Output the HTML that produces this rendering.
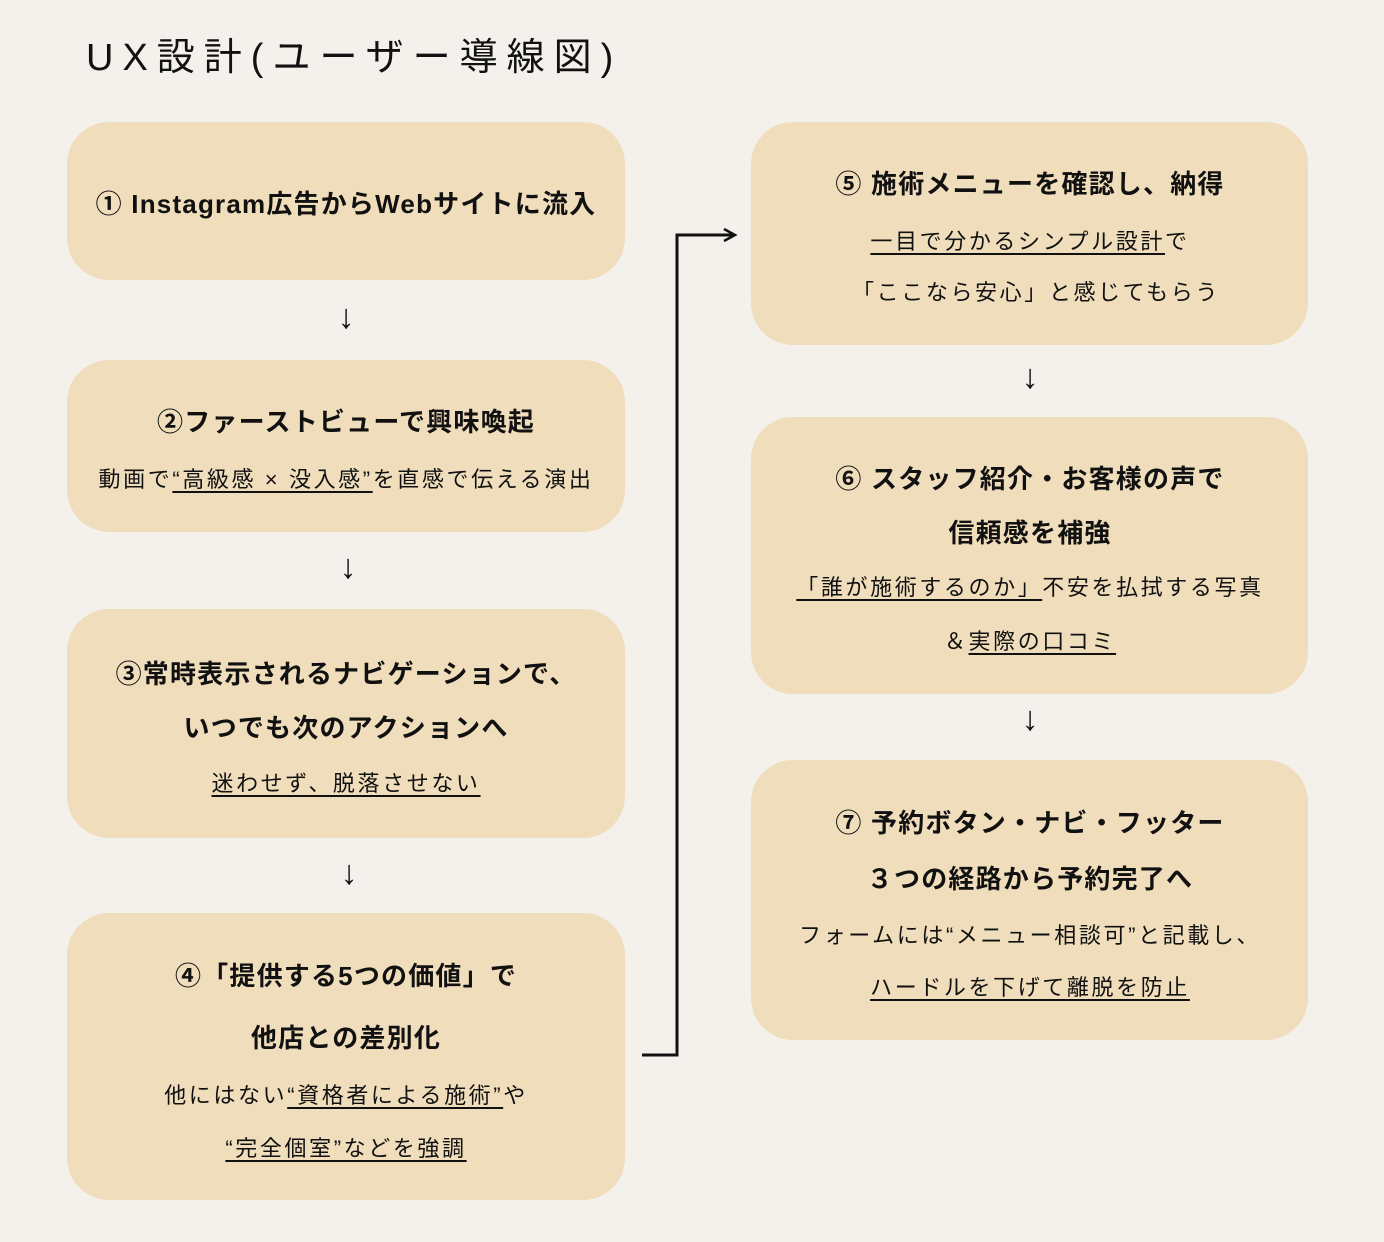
<!DOCTYPE html>
<html><head><meta charset="utf-8"><style>
body{margin:0;width:1384px;height:1242px;background:#f4f1ec;position:relative;overflow:hidden;font-family:"Liberation Sans","Noto Sans CJK JP",sans-serif;color:#111}
.b{position:absolute;background:#f0ddbb;border-radius:42px}
.t{position:absolute;white-space:nowrap;text-align:center;transform:translateX(-50%)}
.h{font-weight:bold;font-size:26px;letter-spacing:1.2px}
.s{font-size:22px;letter-spacing:2.6px}
u{text-underline-offset:4px;text-decoration-thickness:1.5px}
.a{position:absolute;font-size:34px;font-weight:bold;transform:translateX(-50%)}
</style></head><body>
<div class="t" style="top:26px;font-size:38px;letter-spacing:9px;transform:none;left:86px">UX設計(ユーザー導線図)</div>

<div class="b" style="left:67px;top:122px;width:558px;height:158px"></div>
<div class="b" style="left:67px;top:360px;width:558px;height:172px"></div>
<div class="b" style="left:67px;top:609px;width:558px;height:229px"></div>
<div class="b" style="left:67px;top:913px;width:558px;height:287px"></div>
<div class="b" style="left:751px;top:122px;width:557px;height:223px"></div>
<div class="b" style="left:751px;top:417px;width:557px;height:277px"></div>
<div class="b" style="left:751px;top:760px;width:557px;height:280px"></div>

<div class="t h" style="left:346px;top:184px">① Instagram広告からWebサイトに流入</div>
<div class="t h" style="left:346px;top:402px">②ファーストビューで興味喚起</div>
<div class="t s" style="left:346px;top:462px">動画で<u>“高級感 × 没入感”</u>を直感で伝える演出</div>
<div class="t h" style="left:346px;top:654px">③常時表示されるナビゲーションで、</div>
<div class="t h" style="left:346px;top:708px">いつでも次のアクションへ</div>
<div class="t s" style="left:346px;top:766px"><u>迷わせず、脱落させない</u></div>
<div class="t h" style="left:346px;top:956px">④「提供する5つの価値」で</div>
<div class="t h" style="left:346px;top:1018px">他店との差別化</div>
<div class="t s" style="left:346px;top:1078px">他にはない<u>“資格者による施術”</u>や</div>
<div class="t s" style="left:346px;top:1131px"><u>“完全個室”などを強調</u></div>

<div class="t h" style="left:1030px;top:164px">⑤ 施術メニューを確認し、納得</div>
<div class="t s" style="left:1030px;top:224px"><u>一目で分かるシンプル設計</u>で</div>
<div class="t s" style="left:1036px;top:275px">「ここなら安心」と感じてもらう</div>
<div class="t h" style="left:1030px;top:459px">⑥ スタッフ紹介・お客様の声で</div>
<div class="t h" style="left:1030px;top:513px">信頼感を補強</div>
<div class="t s" style="left:1030px;top:570px"><u>「誰が施術するのか」</u>不安を払拭する写真</div>
<div class="t s" style="left:1030px;top:624px">＆<u>実際の口コミ</u></div>
<div class="t h" style="left:1030px;top:803px">⑦ 予約ボタン・ナビ・フッター</div>
<div class="t h" style="left:1030px;top:859px">３つの経路から予約完了へ</div>
<div class="t s" style="left:1030px;top:918px">フォームには“メニュー相談可”と記載し、</div>
<div class="t s" style="left:1030px;top:970px"><u>ハードルを下げて離脱を防止</u></div>

<div class="a" style="left:346px;top:298px">↓</div>
<div class="a" style="left:348px;top:548px">↓</div>
<div class="a" style="left:349px;top:854px">↓</div>
<div class="a" style="left:1030px;top:358px">↓</div>
<div class="a" style="left:1030px;top:700px">↓</div>

<svg style="position:absolute;left:0;top:0" width="1384" height="1242">
<path d="M642 1055 H677 V235 H733" fill="none" stroke="#111" stroke-width="3"/>
<path d="M724 229 L735 235 L724 241" fill="none" stroke="#111" stroke-width="2.5"/>
</svg>
</body></html>
